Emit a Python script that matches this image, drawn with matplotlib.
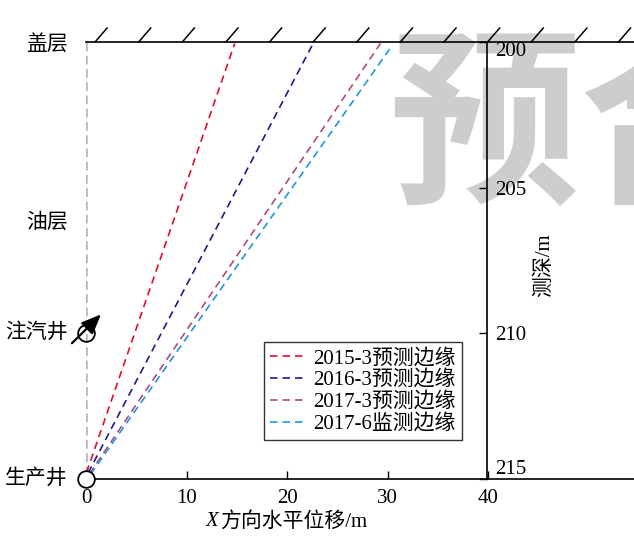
import numpy as np
import matplotlib
matplotlib.use('Agg')
import matplotlib.pyplot as plt

plt.rcParams['font.family'] = ['Liberation Serif', 'Noto Sans CJK SC']
plt.rcParams['axes.unicode_minus'] = False

# 边缘线：起点在生产井附近，终点在盖层底界
edge_labels = ['2015-3预测边缘', '2016-3预测边缘', '2017-3预测边缘', '2017-6监测边缘']
edge_colors = ['#e0102c', '#1c1c84', '#b04a82', '#2096dc']
edge_start_x = [0.05, 0.2, 0.35, 0.45]
edge_start_depth = [214.78, 214.8, 214.82, 214.84]
edge_end_x = [14.8, 22.6, 29.3, 30.3]
edge_end_depth = [200.05, 200.05, 200.05, 200.2]

x_ticks = [0, 10, 20, 30, 40]
depth_ticks = [200, 205, 210, 215]
layer_names = ['盖层', '油层', '注汽井', '生产井']
layer_depths = [200.1, 206.2, 210.0, 215.0]

fs = 15

fig = plt.figure(figsize=(6.34, 5.36), dpi=100)
ax = fig.add_axes([86 / 634, 1 - 479 / 536, 1 - 86 / 634, 437 / 536])
ax.set_xlim(0, 548 / 10.05)
ax.set_ylim(215, 200)
ax.patch.set_visible(False)

# 背景水印
ax.text(30.2, 203.1, '预合', fontsize=137, color='#cdcdcd', fontweight='bold',
        family='Noto Sans CJK SC', ha='left', va='center', zorder=0, clip_on=False)

for s in ['left', 'right']:
    ax.spines[s].set_visible(False)
for s in ['top', 'bottom']:
    ax.spines[s].set_linewidth(1.2)
    ax.spines[s].set_zorder(5)
ax.set_yticks([])
ax.set_xticks(x_ticks)
ax.tick_params(axis='x', direction='in', length=6, width=1, labelsize=fs, pad=7)

# 盖层顶部斜线
hatch_x = np.arange(0.9, 54, 4.34)
for hx in hatch_x:
    ax.plot([hx, hx + 1.2], [200, 199.52], color='k', lw=1.1, clip_on=False, zorder=5)

# 井筒位置虚线
ax.plot([0, 0], [200, 214.75], color='#b4b4b4', lw=1.8, dashes=(3.5, 1.8), zorder=2)

for lab, c, x0, d0, x1, d1 in zip(edge_labels, edge_colors, edge_start_x,
                                  edge_start_depth, edge_end_x, edge_end_depth):
    ax.plot([x0, x1], [d0, d1], color=c, lw=1.2, dashes=(4.5, 3), label=lab, zorder=3)

# 生产井与注汽井
ax.plot([0], [215], 'o', ms=12, mfc='white', mec='k', mew=1.3, clip_on=False, zorder=6)
ax.plot([0], [210], 'o', ms=12, mfc='none', mec='k', mew=1.3, clip_on=False, zorder=6)
ax.annotate('', xy=(1.5, 209.35), xytext=(-1.4, 210.34),
            arrowprops=dict(arrowstyle='-|>,head_length=0.6,head_width=0.25',
                            color='k', lw=1.6, mutation_scale=20,
                            shrinkA=0, shrinkB=0),
            annotation_clip=False, zorder=7)

for name, d in zip(layer_names, layer_depths):
    ax.text(-1.8, d, name, fontsize=fs, ha='right', va='center', clip_on=False)

leg = ax.legend(loc='upper left', bbox_to_anchor=((264 - 86) / 548, 1 - 300 / 437),
                fontsize=fs, frameon=True, fancybox=False, edgecolor='k',
                handlelength=1.6, handletextpad=0.45, labelspacing=0.1,
                borderpad=0.3, borderaxespad=0)
leg.get_frame().set_linewidth(1.0)
leg.set_zorder(8)

# 右侧测深轴（位于 X=40 处）
ax2 = fig.add_axes([86 / 634, 1 - 479 / 536, 401 / 634, 437 / 536])
ax2.patch.set_visible(False)
ax2.set_ylim(215, 200)
ax2.set_xticks([])
for s in ['left', 'top', 'bottom']:
    ax2.spines[s].set_visible(False)
ax2.spines['right'].set_linewidth(1.2)
ax2.yaxis.tick_right()
ax2.set_yticks(depth_ticks)
ax2.tick_params(axis='y', direction='in', length=6, width=1, labelsize=fs, pad=6)
tl = ax2.get_yticklabels()
tl[0].set_va('top')
tl[-1].set_va('bottom')

fig.text(212 / 634, 1 - 522 / 536, 'X', fontsize=fs, style='italic',
         ha='center', va='center')
fig.text(220 / 634, 1 - 522 / 536, '方向水平位移/m', fontsize=fs,
         ha='left', va='center')
fig.text(545 / 634, 1 - 265 / 536, '测深/m', fontsize=fs, rotation=90,
         ha='center', va='center')

fig.savefig('out.png', dpi=100)
